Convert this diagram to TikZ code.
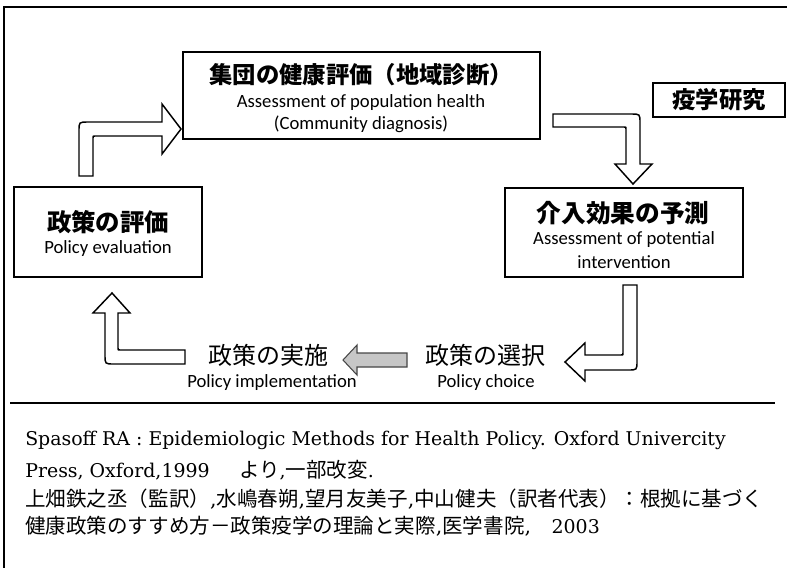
\documentclass[tikz,border=0pt]{standalone}
\usepackage{fontspec}
\newfontfamily\jp{Noto Sans CJK JP}
\newfontfamily\engfont{Carlito}
\newfontfamily\refserif{DejaVu Serif}
\begin{document}
\begin{tikzpicture}[x=0.75pt,y=-0.75pt,
  boxsty/.style={draw=black,line width=1.1pt,inner sep=0pt,fill=white},
  ttl/.style={inner sep=0pt,font=\jp\bfseries\fontsize{17.5}{20}\selectfont},
  lbl/.style={inner sep=0pt,font=\jp\fontsize{18}{20}\selectfont},
  eng/.style={inner sep=0pt,font=\engfont\fontsize{14}{16}\selectfont},
  refl/.style={inner sep=0pt,anchor=west,font=\refserif\fontsize{14.2}{18}\selectfont},
  barrow/.style={draw=black,line width=1.1pt,fill=white,line join=miter},
  garrow/.style={draw=gray!55!black,line width=0.8pt,fill=gray!45,line join=miter}]
\useasboundingbox (0,0) rectangle (787,568);
% outer frame
\draw[line width=1.5pt] (787,7) -- (4,7) -- (4,568);
% boxes
\node[boxsty,minimum width=357*0.75pt,minimum height=87*0.75pt] (pop) at (361.5,95.5) {};
\node[boxsty,minimum width=238*0.75pt,minimum height=89*0.75pt] (pot) at (624,232.5) {};
\node[boxsty,minimum width=188*0.75pt,minimum height=90*0.75pt] (eval) at (108,232) {};
\node[boxsty,minimum width=132*0.75pt,minimum height=34*0.75pt] (epi) at (719,100) {};
% texts
\node[ttl] (popj) at (361,75) {集団の健康評価（地域診断）};
\node[eng] (pope1) at (361,103) {Assessment of population health};
\node[eng] (pope2) at (361,124) {(Community diagnosis)};
\node[ttl,font=\jp\bfseries\fontsize{18.5}{20}\selectfont] (potj) at (623,213) {介入効果の予測};
\node[eng] (pote1) at (624,240) {Assessment of potential};
\node[eng] (pote2) at (624,262) {intervention};
\node[ttl,font=\jp\bfseries\fontsize{18.3}{20}\selectfont] (evalj) at (108,222) {政策の評価};
\node[eng] (evale) at (108,249) {Policy evaluation};
\node[ttl] (epij) at (719,100) {疫学研究};
\node[lbl] (implj) at (268,355) {政策の実施};
\node[eng] (imple) at (272,383) {Policy implementation};
\node[lbl] (choj) at (485,355) {政策の選択};
\node[eng] (choe) at (486,383) {Policy choice};
% block arrows
\draw[barrow] (79,176) -- (79,131) .. controls (79,122) .. (88,122) -- (162,122) -- (162,104) -- (181,129) -- (162,154) -- (162,136) -- (95,136) .. controls (93,136) .. (93,138) -- (93,176) -- cycle;
\draw[barrow] (553,114) -- (631,114) .. controls (640,114) .. (640,123) -- (640,164) -- (652,164) -- (633,184) -- (615,164) -- (626,164) -- (626,129) .. controls (626,127) .. (624,127) -- (553,127) -- cycle;
\draw[barrow] (623,285) -- (637,285) -- (637,361) .. controls (637,370) .. (628,370) -- (585,370) -- (585,381) -- (565,362) -- (585,343) -- (585,355) -- (621,355) .. controls (623,355) .. (623,353) -- cycle;
\draw[garrow] (407,353) -- (407,367) -- (357,367) -- (357,375) -- (343,360) -- (357,345) -- (357,353) -- cycle;
\draw[barrow] (185,350) -- (185,364) -- (114,364) .. controls (105,364) .. (105,355) -- (105,313) -- (93,313) -- (112,293) -- (130,313) -- (118,313) -- (118,348) .. controls (118,350) .. (120,350) -- cycle;
% separator
\draw[line width=1.1pt] (10,403) -- (775,403);
% reference text
\node[refl] (r1) at (25,440) {Spasoff RA : Epidemiologic Methods for Health Policy. Oxford Univercity};
\node[refl] (r2) at (25,470) {Press, Oxford,1999\hspace{22pt}{\jp\fontsize{15.4}{18}\selectfont より},{\jp\fontsize{15.4}{18}\selectfont 一部改変}.};
\node[refl,font=\jp\fontsize{15.4}{18}\selectfont] (r3) at (25,499) {上畑鉄之丞（監訳）{\refserif ,}水嶋春朔{\refserif ,}望月友美子{\refserif ,}中山健夫（訳者代表）：根拠に基づく};
\node[refl,font=\jp\fontsize{15.4}{18}\selectfont] (r4) at (25,526) {健康政策のすすめ方－政策疫学の理論と実際{\refserif ,}医学書院{\refserif ,}　{\refserif\fontsize{14.2}{18}\selectfont 2003}};
\end{tikzpicture}
\end{document}
